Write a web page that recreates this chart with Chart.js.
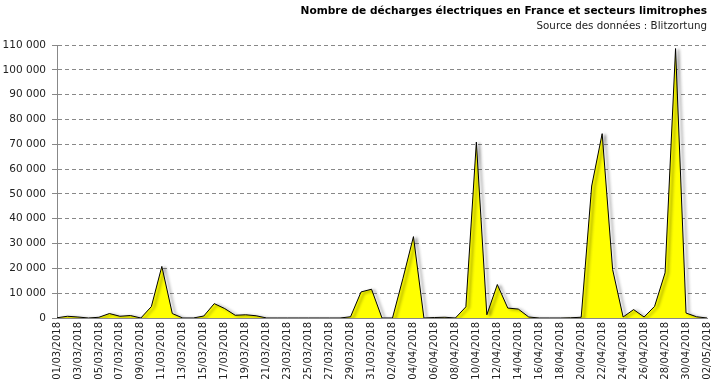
<!DOCTYPE html>
<html>
<head>
<meta charset="utf-8">
<script src="https://cdn.jsdelivr.net/npm/chart.js@4/dist/chart.umd.min.js"></script>
<style>
  body { margin: 0; background: #fff; }
  canvas { display: block; }
</style>
</head>
<body>
<canvas id="chart" width="715" height="387"></canvas>
<script>
const dates = [
  '01/03/2018', '02/03/2018', '03/03/2018', '04/03/2018', '05/03/2018', '06/03/2018', '07/03/2018',
  '08/03/2018', '09/03/2018', '10/03/2018', '11/03/2018', '12/03/2018', '13/03/2018', '14/03/2018',
  '15/03/2018', '16/03/2018', '17/03/2018', '18/03/2018', '19/03/2018', '20/03/2018', '21/03/2018',
  '22/03/2018', '23/03/2018', '24/03/2018', '25/03/2018', '26/03/2018', '27/03/2018', '28/03/2018',
  '29/03/2018', '30/03/2018', '31/03/2018', '01/04/2018', '02/04/2018', '03/04/2018', '04/04/2018',
  '05/04/2018', '06/04/2018', '07/04/2018', '08/04/2018', '09/04/2018', '10/04/2018', '11/04/2018',
  '12/04/2018', '13/04/2018', '14/04/2018', '15/04/2018', '16/04/2018', '17/04/2018', '18/04/2018',
  '19/04/2018', '20/04/2018', '21/04/2018', '22/04/2018', '23/04/2018', '24/04/2018', '25/04/2018',
  '26/04/2018', '27/04/2018', '28/04/2018', '29/04/2018', '30/04/2018', '01/05/2018', '02/05/2018'
];

// daily lightning discharges
const discharges = [
  100, 700, 400, 0, 300, 1800, 700, 1000, 0, 4600, 20800, 1800, 0, 0,
  800, 5800, 3800, 1100, 1300, 900, 0,
  0, 0, 0, 0, 0, 0, 0,
  500, 10500, 11600, 0, 0, 16000, 32800,
  0, 200, 300, 0, 4500, 70900, 1300,
  13500, 4000, 3600, 400, 0, 0, 0,
  100, 300, 53200, 74300, 19500, 400, 3400,
  400, 4700, 18200, 108600, 2000, 500, 0
];

const yTicks = [0, 10000, 20000, 30000, 40000, 50000, 60000, 70000, 80000, 90000, 100000, 110000];

const titleText = 'Nombre de décharges électriques en France et secteurs limitrophes';
const subtitleText = 'Source des données : Blitzortung';

function fmt(v) {
  return String(v).replace(/\B(?=(\d{3})+(?!\d))/g, ' ');
}

// drop shadow behind the area
const shadowPlugin = {
  id: 'areaShadow',
  beforeDatasetDraw(chart) {
    const ctx = chart.ctx;
    ctx.save();
    ctx.shadowColor = 'rgba(0,0,0,0.6)';
    ctx.shadowBlur = 3;
    ctx.shadowOffsetX = 3;
    ctx.shadowOffsetY = 1;
  },
  afterDatasetDraw(chart) {
    chart.ctx.restore();
  }
};

const ctx = document.getElementById('chart').getContext('2d');
new Chart(ctx, {
  type: 'line',
  data: {
    labels: dates,
    datasets: [{
      data: discharges,
      borderColor: '#000',
      borderWidth: 1,
      backgroundColor: '#ffff00',
      fill: 'origin',
      pointRadius: 0,
      tension: 0
    }]
  },
  plugins: [shadowPlugin],
  options: {
    responsive: false,
    animation: false,
    layout: { padding: { left: 0, right: 8, top: 0, bottom: 0 } },
    scales: {
      x: {
        grid: { display: false, drawTicks: false },
        border: { color: '#888', width: 1 },
        afterFit: s => { s.height = 69; s.paddingLeft = 0; s.paddingRight = 0; },
        ticks: {
          autoSkip: false,
          maxRotation: 90,
          minRotation: 90,
          padding: 4,
          color: '#222',
          font: { family: 'DejaVu Sans', size: 10 },
          callback: (v, i) => (i % 2 === 0 ? dates[i] : '')
        }
      },
      y: {
        min: 0,
        max: 110000,
        afterFit: s => { s.width = 57; },
        afterBuildTicks: s => { s.ticks = yTicks.map(v => ({ value: v })); },
        border: { color: '#888', width: 1, dash: [4, 3] },
        grid: {
          color: '#888',
          tickLength: 5,
          tickBorderDash: [1, 0],
          tickColor: '#888'
        },
        ticks: {
          padding: 6,
          color: '#222',
          font: { family: 'DejaVu Sans', size: 10.5 },
          callback: v => fmt(v)
        }
      }
    },
    plugins: {
      legend: { display: false },
      tooltip: { enabled: false },
      title: {
        display: true,
        text: titleText,
        align: 'end',
        color: '#000',
        font: { family: 'DejaVu Sans', size: 10.6, weight: 'bold' },
        padding: { top: 5, bottom: 2 }
      },
      subtitle: {
        display: true,
        text: subtitleText,
        align: 'end',
        color: '#222',
        font: { family: 'DejaVu Sans', size: 10.3 },
        padding: { top: 0, bottom: 13 }
      }
    }
  }
});
</script>
</body>
</html>
